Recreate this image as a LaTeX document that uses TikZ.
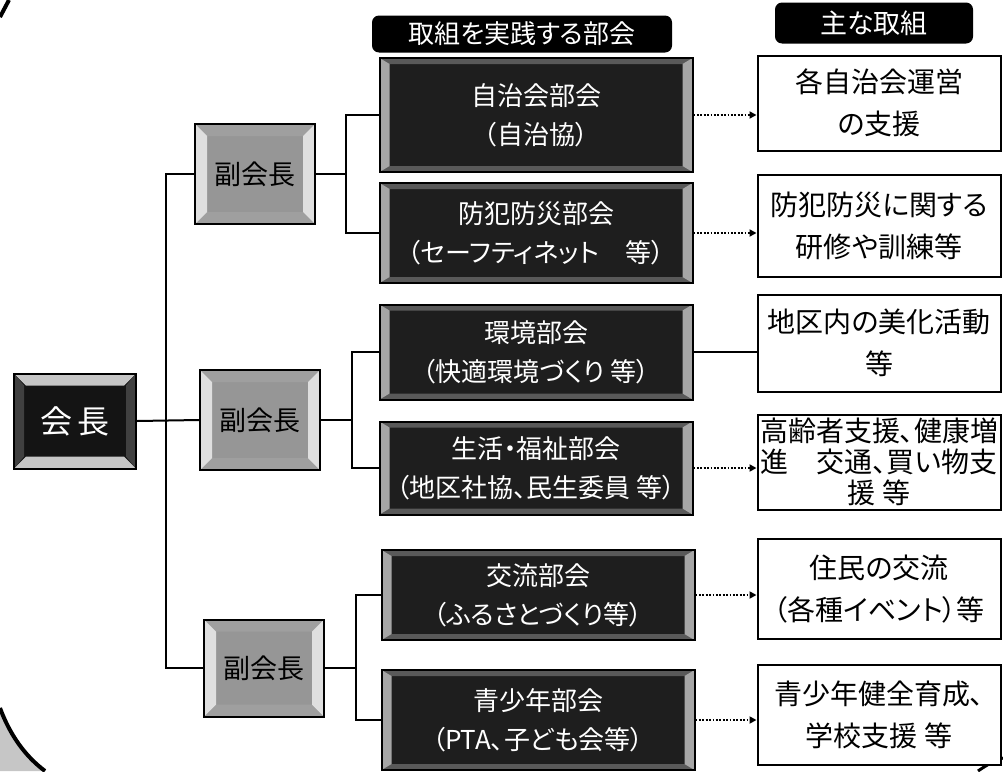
\documentclass[tikz,border=0pt]{standalone}
\usepackage{fontspec}
\setmainfont{Noto Sans CJK JP}[RawFeature={+palt}]
\usetikzlibrary{calc,arrows.meta}
\definecolor{deptfill}{RGB}{30,30,30}
\definecolor{vpfill}{RGB}{150,150,150}
\tikzset{
  bevelpic/.style n args={4}{path picture={
     \fill[#3] let \p1=(path picture bounding box.south west), \p2=(path picture bounding box.north east) in
        (\x1,\y2) -- (\x2,\y2) -- (\x2-#2,\y2-#2) -- (\x1+#2,\y2-#2) -- cycle
        (\x1,\y1) -- (\x2,\y1) -- (\x2-#2,\y1+#2) -- (\x1+#2,\y1+#2) -- cycle;
     \fill[#4] let \p1=(path picture bounding box.south west), \p2=(path picture bounding box.north east) in
        (\x1,\y1) -- (\x1,\y2) -- (\x1+#1,\y2-#2) -- (\x1+#1,\y1+#2) -- cycle
        (\x2,\y1) -- (\x2,\y2) -- (\x2-#1,\y2-#2) -- (\x2-#1,\y1+#2) -- cycle;
  }},
  dept/.style={draw=black, line width=2pt, fill=deptfill, text=white,
    minimum width=313pt, align=center, inner sep=0pt,
    font=\fontsize{26}{39}\selectfont, bevelpic={10pt}{6pt}{black!65}{gray!70}},
  vp/.style={draw=black, line width=2pt, fill=vpfill, text=black,
    minimum width=120pt, minimum height=100pt, inner sep=0pt,
    font=\fontsize{27}{30}\selectfont, bevelpic={12pt}{12pt}{gray!75}{gray!25}},
  chief/.style={draw=black, line width=2pt, fill=black!92, text=white,
    minimum width=122pt, minimum height=95pt, inner sep=0pt,
    font=\fontsize{32}{34}\selectfont, bevelpic={10pt}{12pt}{gray!45}{black!75}},
  res/.style={draw=black, line width=2pt, fill=white, text=black,
    minimum width=243pt, align=center, inner sep=0pt,
    font=\fontsize{28}{42}\selectfont},
  head/.style={fill=black, rounded corners=7pt, text=white, inner sep=0pt,
    font=\fontsize{26}{28}\selectfont},
  link/.style={line width=2pt, draw=black},
  dotarrow/.style={line width=1.8pt, dash pattern=on 1.8pt off 1.6pt,
    -{Triangle[length=7pt,width=7pt]}},
}
\begin{document}
\begin{tikzpicture}[x=1pt,y=-1pt]
\useasboundingbox (0,0) rectangle (1003,771);
\clip (0,0) rectangle (1003,771);
\fill[white] (0,0) rectangle (1003,771);

% frame remnants
\fill[gray!45] (0,708) .. controls (10,735) and (25,756) .. (45,771) -- (0,771) -- cycle;
\draw[line width=4pt] (0,708) .. controls (10,735) and (25,756) .. (45,771);
\draw[line width=4pt] (0,17) -- (9,0);
\draw[line width=3pt] (978,771) .. controls (988,764) and (996,760) .. (1003,758);

% headers
\node[head, minimum width=300pt, minimum height=37pt] (h1) at (522,34) {取組を実践する部会};
\node[head, minimum width=198pt, minimum height=41pt, font=\fontsize{27}{30}\selectfont] (h2) at (874,23) {主な取組};

% chief and vice chiefs
\node[chief] (kaicho) at (75,421) {会\hspace{6pt}長};
\node[vp] (vp1) at (255,174) {副会長};
\node[vp] (vp2) at (260,420) {副会長};
\node[vp, minimum height=97pt] (vp3) at (264,668) {副会長};

% departments
\node[dept, minimum height=114pt] (d1) at (536,115) {自治会部会\\（自治協）};
\node[dept, minimum height=100pt] (d2) at (536,233) {防犯防災部会\\（セーフティネット　等）};
\node[dept, minimum height=95pt] (d3) at (536,352) {環境部会\\（快適環境づくり 等）};
\node[dept, minimum height=93pt] (d4) at (536,468) {生活・福祉部会\\（地区社協、民生委員 等）};
\node[dept, minimum height=90pt] (d5) at (538,595) {交流部会\\（ふるさとづくり等）};
\node[dept, minimum height=100pt] (d6) at (538,720) {青少年部会\\（PTA、子ども会等）};

% results
\node[res, minimum height=95pt] (r1) at (879,103) {各自治会運営\\の支援};
\node[res, minimum height=102pt] (r2) at (879,226) {防犯防災に関する\\研修や訓練等};
\node[res, minimum height=97pt] (r3) at (879,343) {地区内の美化活動\\等};
\node[res, minimum height=95pt, font=\fontsize{28}{31}\selectfont] (r4) at (879,462) {高齢者支援、健康増\\進　交通、買い物支\\援 等};
\node[res, minimum height=100pt] (r5) at (879,589) {住民の交流\\（各種イベント）等};
\node[res, minimum height=100pt] (r6) at (879,715) {青少年健全育成、\\学校支援 等};

% trunk
\coordinate (trunk) at (166,420);
\draw[link] (kaicho.east) -- (vp2.west);
\draw[link] (vp1.west) -| (trunk) |- (vp3.west);

% branches
\coordinate (b1) at (346,174);
\coordinate (b2) at (352,420);
\coordinate (b3) at (356,668);
\draw[link] (vp1.east) -- (b1);
\draw[link] (d1.west) -| (b1) |- (d2.west);
\draw[link] (vp2.east) -- (b2);
\draw[link] (d3.west) -| (b2) |- (d4.west);
\draw[link] (vp3.east) -- (b3);
\draw[link] (d5.west) -| (b3) |- (d6.west);

% to results
\draw[dotarrow] (d1.east) -- (d1.east -| r1.west);
\draw[dotarrow] (d2.east) -- (d2.east -| r2.west);
\draw[link] (d3.east) -- (d3.east -| r3.west);
\draw[dotarrow] (d4.east) -- (d4.east -| r4.west);
\draw[dotarrow] (d5.east) -- (d5.east -| r5.west);
\draw[dotarrow] (d6.east) -- (d6.east -| r6.west);
\end{tikzpicture}
\end{document}
